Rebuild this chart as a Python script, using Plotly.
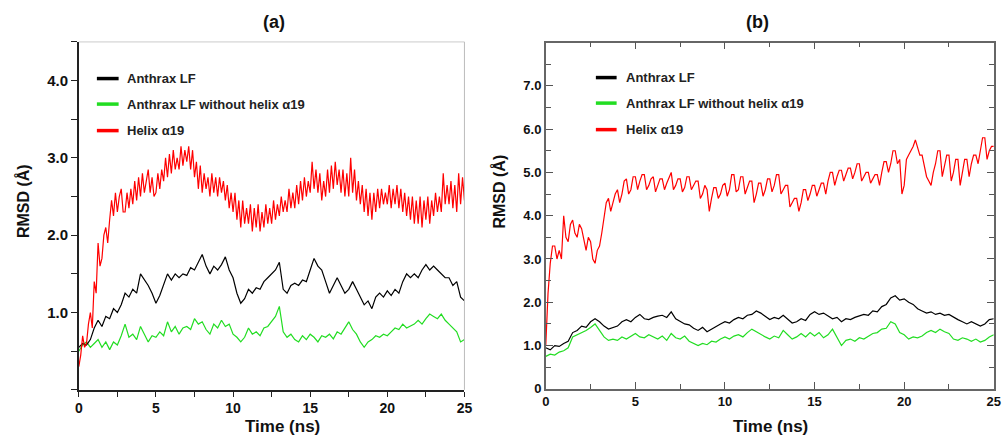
import plotly.graph_objects as go

W, H = 1008, 444

time_ns = [i * 0.25 for i in range(101)]
time_fine_ns = [i * 0.125 for i in range(201)]

a_helix = [0.3, 0.45, 0.7, 0.55, 0.6, 0.85, 1.0, 0.8,
           1.4, 1.25, 1.9, 1.6, 1.7, 2.0, 2.1, 1.9,
           2.2, 2.45, 2.25, 2.55, 2.3, 2.5, 2.6, 2.3,
           2.3, 2.55, 2.35, 2.6, 2.4, 2.7, 2.45, 2.75,
           2.5, 2.8, 2.55, 2.7, 2.85, 2.55, 2.75, 2.5,
           2.55, 2.8, 2.6, 2.85, 2.7, 3.0, 2.75, 3.05,
           2.8, 3.1, 2.85, 3.0, 2.85, 3.15, 2.9, 3.1,
           2.95, 3.15, 2.85, 3.1, 2.75, 2.95, 2.6, 2.9,
           2.55, 2.8, 2.6, 2.75, 2.5, 2.8, 2.55, 2.75,
           2.5, 2.75, 2.55, 2.7, 2.45, 2.65, 2.35, 2.55,
           2.3, 2.55, 2.2, 2.45, 2.1, 2.45, 2.15, 2.35,
           2.15, 2.4, 2.05, 2.35, 2.1, 2.4, 2.05, 2.3,
           2.1, 2.4, 2.15, 2.35, 2.15, 2.45, 2.2, 2.4,
           2.25, 2.5, 2.3, 2.45, 2.3, 2.6, 2.35, 2.55,
           2.35, 2.65, 2.4, 2.7, 2.45, 2.75, 2.5, 2.7,
           2.55, 2.95, 2.6, 2.85, 2.55, 2.8, 2.45, 2.7,
           2.5, 2.85, 2.55, 2.9, 2.6, 2.95, 2.65, 2.85,
           2.55, 2.85, 2.5, 2.8, 2.5, 3.0, 2.55, 2.85,
           2.45, 2.7, 2.4, 2.65, 2.3, 2.6, 2.25, 2.55,
           2.2, 2.55, 2.3, 2.6, 2.35, 2.6, 2.4, 2.55,
           2.4, 2.65, 2.35, 2.6, 2.4, 2.65, 2.35, 2.6,
           2.3, 2.55, 2.25, 2.5, 2.2, 2.5, 2.15, 2.45,
           2.15, 2.5, 2.1, 2.45, 2.2, 2.5, 2.15, 2.45,
           2.25, 2.55, 2.3, 2.5, 2.3, 2.8, 2.4, 2.65,
           2.4, 2.7, 2.35, 2.65, 2.3, 2.8, 2.4, 2.75,
           2.45]
a_full = [0.55, 0.6, 0.58, 0.65, 0.8, 0.9, 0.82, 0.95, 0.92, 1.05, 1.0, 1.1, 1.25, 1.2, 1.3, 1.25, 1.5, 1.42, 1.35, 1.25,
          1.12, 1.22, 1.35, 1.5, 1.42, 1.5, 1.45, 1.5, 1.48, 1.58, 1.55, 1.65, 1.75, 1.6, 1.5, 1.6, 1.55, 1.62, 1.72, 1.55,
          1.45, 1.25, 1.12, 1.18, 1.3, 1.25, 1.32, 1.3, 1.4, 1.45, 1.5, 1.55, 1.65, 1.3, 1.25, 1.35, 1.38, 1.35, 1.42, 1.4,
          1.55, 1.7, 1.6, 1.55, 1.4, 1.25, 1.35, 1.45, 1.35, 1.25, 1.3, 1.4, 1.3, 1.2, 1.1, 1.15, 1.05, 1.2, 1.25, 1.2,
          1.28, 1.22, 1.3, 1.25, 1.4, 1.5, 1.45, 1.5, 1.45, 1.55, 1.62, 1.55, 1.6, 1.55, 1.5, 1.45, 1.45, 1.35, 1.4, 1.2, 1.15]
a_nohelix = [0.5, 0.58, 0.62, 0.55, 0.6, 0.65, 0.55, 0.62, 0.52, 0.62, 0.58, 0.7, 0.85, 0.68, 0.72, 0.65, 0.82, 0.72, 0.62, 0.7,
             0.68, 0.75, 0.7, 0.88, 0.75, 0.82, 0.72, 0.8, 0.82, 0.78, 0.92, 0.85, 0.88, 0.78, 0.72, 0.85, 0.8, 0.9, 0.82, 0.85,
             0.72, 0.68, 0.62, 0.68, 0.8, 0.72, 0.75, 0.7, 0.8, 0.82, 0.88, 0.95, 1.08, 0.75, 0.68, 0.72, 0.65, 0.62, 0.7, 0.65,
             0.72, 0.68, 0.62, 0.7, 0.68, 0.72, 0.66, 0.75, 0.72, 0.8, 0.88, 0.78, 0.72, 0.62, 0.55, 0.62, 0.65, 0.7, 0.68, 0.72,
             0.7, 0.75, 0.8, 0.78, 0.85, 0.8, 0.82, 0.85, 0.9, 0.85, 0.92, 0.98, 0.95, 0.92, 0.98, 0.9, 0.85, 0.8, 0.75, 0.62, 0.65]

b_helix = [1.0, 2.2, 2.9, 3.3, 3.3, 3.0, 3.2, 3.0,
           4.0, 3.5, 3.4, 3.8, 3.9, 3.6, 3.5, 3.8,
           3.7, 3.4, 3.2, 3.5, 3.4, 3.0, 2.9, 3.2,
           3.3, 3.6, 3.9, 4.3, 4.4, 4.1, 4.3, 4.5,
           4.6, 4.3, 4.5, 4.8, 4.85, 4.5, 4.6, 4.9,
           4.9, 4.6, 4.8, 4.95, 4.95, 4.6, 4.7, 4.85,
           4.9, 4.55, 4.7, 4.85, 4.85, 4.6, 4.75, 4.9,
           5.0, 4.6, 4.7, 4.85, 4.85, 4.55, 4.65, 4.9,
           4.9, 4.6, 4.7, 4.8, 4.8, 4.4, 4.5, 4.7,
           4.6, 4.1, 4.4, 4.65, 4.65, 4.4, 4.5, 4.7,
           4.75, 4.45, 4.6, 4.95, 4.95, 4.55, 4.6, 4.9,
           4.9, 4.5, 4.65, 4.8, 4.8, 4.3, 4.5, 4.75,
           4.75, 4.45, 4.6, 4.85, 4.85, 4.55, 4.7, 4.95,
           4.95, 4.5, 4.6, 4.7, 4.7, 4.2, 4.3, 4.4,
           4.4, 4.1, 4.3, 4.6, 4.6, 4.35, 4.5, 4.7,
           4.7, 4.45, 4.6, 4.75, 4.75, 4.5, 4.8, 5.0,
           5.0, 4.7, 4.9, 5.05, 5.05, 4.8, 4.95, 5.1,
           5.1, 4.85, 5.0, 5.2, 5.2, 4.8, 4.9, 5.0,
           5.0, 4.75, 4.85, 4.95, 4.95, 4.7, 5.0, 5.25,
           5.25, 5.0, 5.2, 5.5, 5.5, 5.2, 5.3, 4.5,
           4.7, 5.3, 5.4, 5.5, 5.6, 5.75, 5.6, 5.4,
           5.4, 5.1, 4.9, 4.8, 4.7, 5.0, 5.2, 5.5,
           5.5, 4.9, 5.2, 5.4, 5.4, 4.8, 5.0, 5.3,
           5.3, 4.7, 5.0, 5.3, 5.3, 4.9, 5.2, 5.4,
           5.4, 5.2, 5.5, 5.8, 5.8, 5.3, 5.5, 5.6,
           5.6]
b_full = [0.95, 0.9, 1.0, 0.98, 1.05, 1.1, 1.3, 1.35, 1.45, 1.42, 1.55, 1.62, 1.55, 1.45, 1.38, 1.42, 1.45, 1.55, 1.6, 1.55,
          1.65, 1.72, 1.62, 1.6, 1.65, 1.68, 1.7, 1.65, 1.78, 1.62, 1.55, 1.5, 1.48, 1.4, 1.35, 1.42, 1.32, 1.38, 1.45, 1.5,
          1.55, 1.52, 1.6, 1.65, 1.62, 1.7, 1.72, 1.8, 1.75, 1.68, 1.6, 1.65, 1.62, 1.7, 1.6, 1.52, 1.55, 1.62, 1.58, 1.72,
          1.78, 1.72, 1.75, 1.68, 1.62, 1.65, 1.55, 1.62, 1.6, 1.65, 1.68, 1.72, 1.7, 1.8, 1.78, 1.9, 1.95, 2.1, 2.15, 2.05,
          2.08, 2.0, 1.95, 1.85, 1.8, 1.75, 1.78, 1.72, 1.75, 1.7, 1.72, 1.65, 1.6, 1.55, 1.5, 1.55, 1.5, 1.45, 1.5, 1.6, 1.62]
b_nohelix = [0.75, 0.8, 0.78, 0.85, 0.88, 0.95, 1.2, 1.25, 1.3, 1.35, 1.42, 1.5, 1.35, 1.2, 1.12, 1.15, 1.12, 1.2, 1.15, 1.22,
             1.28, 1.2, 1.18, 1.25, 1.2, 1.15, 1.22, 1.12, 1.28, 1.18, 1.15, 1.22, 1.1, 1.05, 1.0, 1.05, 1.02, 1.1, 1.08, 1.15,
             1.2, 1.15, 1.22, 1.25, 1.2, 1.3, 1.38, 1.32, 1.25, 1.2, 1.15, 1.22, 1.18, 1.35, 1.25, 1.15, 1.2, 1.28, 1.2, 1.3,
             1.22, 1.3, 1.18, 1.25, 1.38, 1.2, 1.0, 1.12, 1.15, 1.1, 1.18, 1.15, 1.22, 1.28, 1.3, 1.38, 1.4, 1.55, 1.5, 1.3,
             1.25, 1.15, 1.2, 1.18, 1.22, 1.3, 1.35, 1.3, 1.38, 1.32, 1.28, 1.15, 1.12, 1.18, 1.15, 1.1, 1.15, 1.08, 1.12, 1.2, 1.25]

series_names = ["Anthrax LF", "Anthrax LF without helix \u03b119", "Helix \u03b119"]
series_colors = ["#000000", "#22dd22", "#ff0000"]

a_ticks = [1, 2, 3, 4]
a_ticktext = ["1.0", "2.0", "3.0", "4.0"]
b_ticks = [0, 1, 2, 3, 4, 5, 6, 7]
b_ticktext = ["0", "1.0", "2.0", "3.0", "4.0", "5.0", "6.0", "7.0"]
x_ticks = [0, 5, 10, 15, 20, 25]

FONT = "Liberation Sans, Arial, sans-serif"

def px(x):
    return x / W

def py(y):
    return 1 - y / H

fig = go.Figure()

# Panel (a)
for t, vals, c in [(time_ns, a_nohelix, series_colors[1]), (time_ns, a_full, series_colors[0]),
                   (time_fine_ns, a_helix, series_colors[2])]:
    fig.add_trace(go.Scatter(x=t, y=vals, mode="lines", line=dict(color=c, width=1.2),
                             xaxis="x", yaxis="y", showlegend=False))
# Panel (b)
for t, vals, c in [(time_ns, b_nohelix, series_colors[1]), (time_ns, b_full, series_colors[0]),
                   (time_fine_ns, b_helix, series_colors[2])]:
    fig.add_trace(go.Scatter(x=t, y=vals, mode="lines", line=dict(color=c, width=1.2),
                             xaxis="x2", yaxis="y2", showlegend=False))

tickfont_ax = dict(family=FONT, size=14, color="#111", weight="bold")
tickfont_ay = dict(family=FONT, size=15, color="#111", weight="bold")
tickfont_b = dict(family=FONT, size=13, color="#111", weight="bold")

fig.update_layout(
    width=W, height=H, margin=dict(l=0, r=0, t=0, b=0),
    paper_bgcolor="white", plot_bgcolor="white",
    xaxis=dict(domain=[px(75.7), px(466)], range=[0, 25], tickvals=x_ticks,
               ticks="outside", ticklen=5, tickwidth=1, tickcolor="#222",
               minor=dict(dtick=2.5, tick0=0, ticks="outside", ticklen=5, tickcolor="#222"),
               showline=True, linecolor="#222", linewidth=1.5, showgrid=False, zeroline=False,
               tickfont=tickfont_ax, anchor="y"),
    yaxis=dict(domain=[py(397), py(42.7)], range=[0, 4.5], tickvals=a_ticks, ticktext=a_ticktext,
               ticks="outside", ticklen=6, tickwidth=1, tickcolor="#222",
               minor=dict(dtick=0.5, tick0=0, ticks="outside", ticklen=6, tickcolor="#222"),
               showline=True, linecolor="#222", linewidth=1.5, showgrid=False, zeroline=False,
               tickfont=tickfont_ay, anchor="x"),
    xaxis2=dict(domain=[px(548.3), px(1001.7)], range=[0, 25], tickvals=x_ticks,
                ticks="inside", ticklen=7, tickwidth=1.2, tickcolor="#555",
                minor=dict(dtick=2.5, tick0=0, ticks="inside", ticklen=5, tickcolor="#555"),
                showline=True, linecolor="#666", linewidth=1.5, mirror="ticks",
                showgrid=False, zeroline=False, tickfont=tickfont_b, anchor="y2"),
    yaxis2=dict(domain=[py(396), py(43.3)], range=[0, 8], tickvals=b_ticks, ticktext=b_ticktext,
                ticks="inside", ticklen=7, tickwidth=1.2, tickcolor="#555",
                minor=dict(dtick=0.5, tick0=0, ticks="inside", ticklen=5, tickcolor="#555"),
                showline=True, linecolor="#666", linewidth=1.5, mirror="ticks",
                showgrid=False, zeroline=False, tickfont=tickfont_b, anchor="x2"),
)

shapes = []
# light top/right frame of panel (a)
shapes.append(dict(type="line", xref="paper", yref="paper", x0=px(75.7), x1=px(466), y0=py(42.7), y1=py(42.7),
                   line=dict(color="#cccccc", width=1)))
shapes.append(dict(type="line", xref="paper", yref="paper", x0=px(466), x1=px(466), y0=py(42.7), y1=py(397),
                   line=dict(color="#bbbbbb", width=1)))

annotations = []
# legends
legend_a = dict(x0=94, x1=116, xt=122, ys=[80, 106, 133])
legend_b = dict(x0=599, x1=620, xt=627, ys=[79, 105, 132])
for lg in (legend_a, legend_b):
    for name, c, y in zip(series_names, series_colors, lg["ys"]):
        shapes.append(dict(type="line", xref="paper", yref="paper", x0=px(lg["x0"]), x1=px(lg["x1"]),
                           y0=py(y), y1=py(y), line=dict(color=c, width=3.5)))
        annotations.append(dict(text=name, xref="paper", yref="paper", x=px(lg["xt"]), y=py(y),
                                xanchor="left", yanchor="middle", showarrow=False,
                                font=dict(family=FONT, size=13, color="#222", weight="bold")))

# panel titles
for t, x in [("(a)", 273), ("(b)", 763)]:
    annotations.append(dict(text=t, xref="paper", yref="paper", x=px(x), y=py(22), xanchor="center",
                            yanchor="middle", showarrow=False,
                            font=dict(family=FONT, size=18, color="#111", weight="bold")))
# axis titles
for x in (282, 776):
    annotations.append(dict(text="Time (ns)", xref="paper", yref="paper", x=px(x), y=py(434), xanchor="center",
                            yanchor="middle", showarrow=False,
                            font=dict(family=FONT, size=17, color="#111", weight="bold")))
for x, y in [(20, 205), (501, 195)]:
    annotations.append(dict(text="RMSD (\u00c5)", xref="paper", yref="paper", x=px(x), y=py(y), xanchor="center",
                            yanchor="middle", showarrow=False, textangle=-90,
                            font=dict(family=FONT, size=16, color="#111", weight="bold")))

fig.update_layout(shapes=shapes, annotations=annotations)

fig.write_html("out.html", config={"displayModeBar": False},
               post_script="document.body.style.margin='0';document.body.style.overflow='hidden';")
